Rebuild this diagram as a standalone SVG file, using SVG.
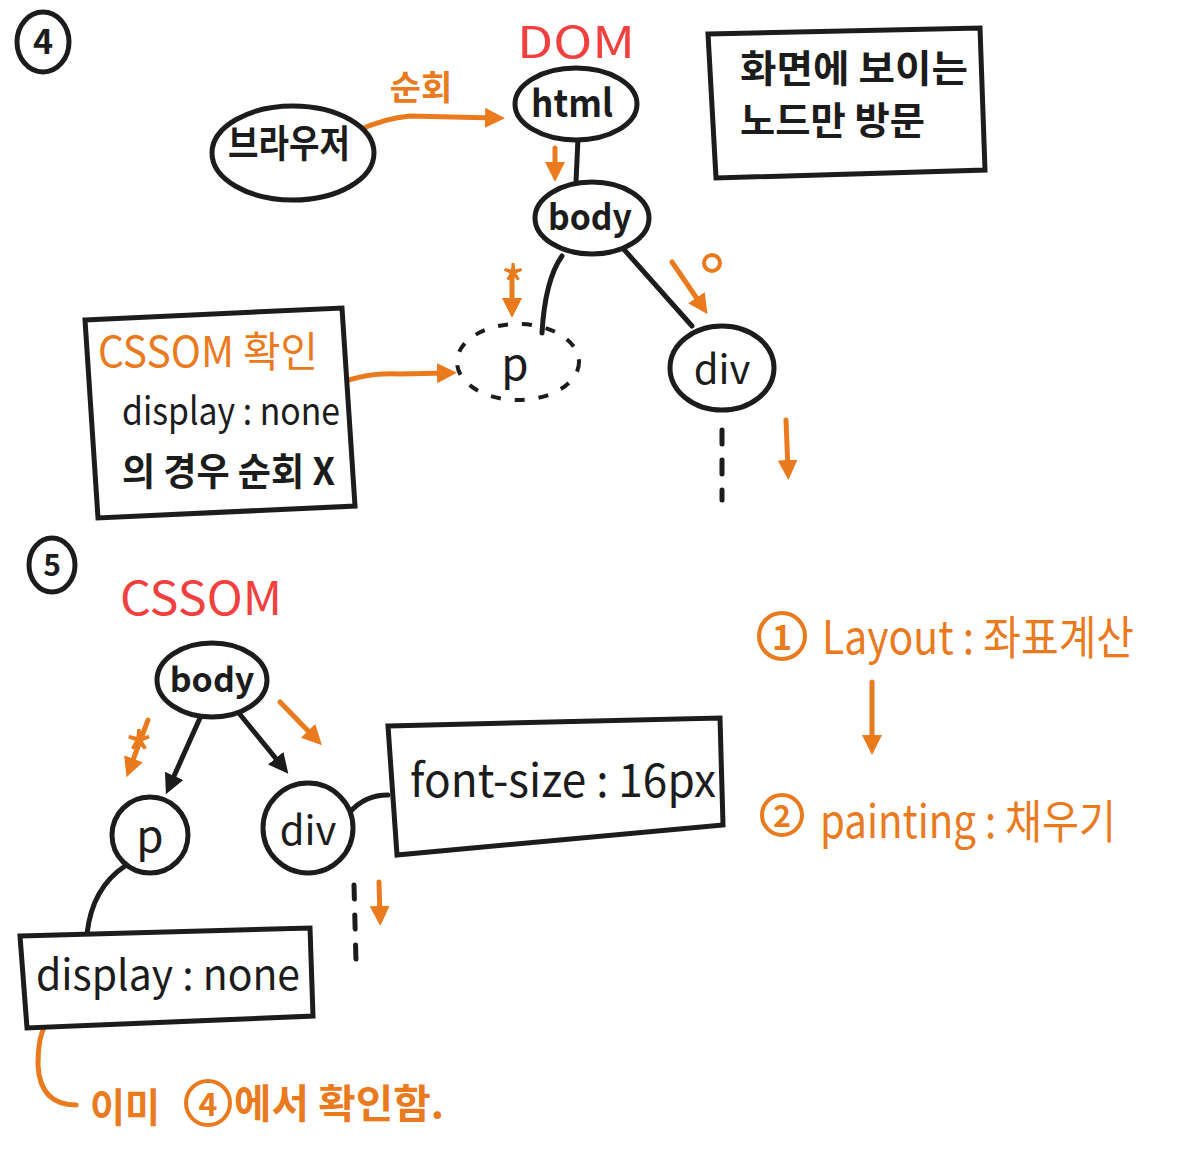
<svg xmlns="http://www.w3.org/2000/svg" width="1200" height="1158" viewBox="0 0 1200 1158">
<style>
text{font-family:"Noto Sans CJK KR","Noto Sans",sans-serif;}
.k{fill:#1c1c1c;}
.o{fill:#e97a1e;}
.r{fill:#f2403f;}
.sh{fill:#fff;stroke:#1c1c1c;stroke-width:5;}
.ln{fill:none;stroke:#1c1c1c;stroke-width:5;stroke-linecap:round;}
.ol{fill:none;stroke:#e97a1e;stroke-width:5;stroke-linecap:round;}
.oc{fill:none;stroke:#e97a1e;stroke-width:4;}
</style>
<defs>
<marker id="ao" viewBox="0 0 10 10" refX="5" refY="5" markerWidth="4" markerHeight="4" orient="auto"><path d="M0,0 L10,5 L0,10 z" fill="#e97a1e"/></marker>
<marker id="ak" viewBox="0 0 10 10" refX="5" refY="5" markerWidth="4" markerHeight="4" orient="auto"><path d="M0,0 L10,5 L0,10 z" fill="#1c1c1c"/></marker>
</defs>
<rect width="1200" height="1158" fill="#fff"/>

<g id="connectors">
<path class="ol" d="M357,131 Q385,118 410,116 L495,118" marker-end="url(#ao)"/>
<path class="ln" d="M578,138 L576,182"/>
<path class="ol" d="M555,148 L555,172" marker-end="url(#ao)"/>
<path class="ln" d="M562,256 Q545,280 542,333"/>
<path class="ln" d="M620,245 L692,326"/>
<path class="ol" d="M512,272 L512,308" marker-end="url(#ao)"/>
<path class="ol" d="M672,262 L702,306" marker-end="url(#ao)"/>
<path class="ln" d="M722,430 L722,500" stroke-dasharray="14,16"/>
<path class="ol" d="M786,420 L788,470" marker-end="url(#ao)"/>
<path class="ol" d="M330,388 Q360,372 400,374 L447,373" marker-end="url(#ao)"/>
<path class="ln" d="M200,718 L170,785" marker-end="url(#ak)"/>
<path class="ln" d="M238,712 L282,766" marker-end="url(#ak)"/>
<path class="ol" d="M148,720 L130,768" marker-end="url(#ao)"/>
<path class="ol" d="M280,702 L315,738" marker-end="url(#ao)"/>
<path class="ln" d="M350,812 Q365,795 388,795"/>
<path class="ln" d="M125,866 Q92,888 87,934"/>
<path class="ln" d="M354,885 L356,962" stroke-dasharray="14,16"/>
<path class="ol" d="M379,882 L380,916" marker-end="url(#ao)"/>
<path class="ol" d="M872,682 L872,745" marker-end="url(#ao)"/>
<path class="ol" d="M55,1018 Q38,1022 38,1065 Q40,1105 76,1105"/>
</g>

<g id="label-4">
<ellipse cx="43" cy="42" rx="26" ry="30" fill="none" stroke="#1c1c1c" stroke-width="5"/>
<text x="43" y="54" class="k" font-size="34" font-weight="bold" text-anchor="middle">4</text>
</g>
<g id="title-dom"><text x="517" y="58" class="r" font-size="44" textLength="118" lengthAdjust="spacingAndGlyphs">DOM</text></g>
<g id="label-traverse"><text x="421" y="100" class="o" font-size="34" font-weight="bold" text-anchor="middle">순회</text></g>

<g id="node-browser">
<ellipse class="sh" cx="293" cy="153" rx="81" ry="47"/>
<text x="228" y="157" class="k" font-size="38" font-weight="bold" textLength="122" lengthAdjust="spacingAndGlyphs">브라우저</text>
</g>
<g id="node-html">
<ellipse class="sh" cx="576" cy="104" rx="61" ry="36"/>
<text x="531" y="117" class="k" font-size="38" font-weight="bold" textLength="82" lengthAdjust="spacingAndGlyphs">html</text>
</g>
<g id="node-body-dom">
<ellipse class="sh" cx="592" cy="218" rx="57" ry="36"/>
<text x="548" y="230" class="k" font-size="36" font-weight="bold" textLength="84" lengthAdjust="spacingAndGlyphs">body</text>
</g>
<g id="note-visible">
<path class="sh" d="M708,34 L980,28 L985,170 L716,178 Z"/>
<text x="740" y="82" class="k" font-size="38" font-weight="bold" textLength="228" lengthAdjust="spacingAndGlyphs">화면에 보이는</text>
<text x="740" y="134" class="k" font-size="38" font-weight="bold" textLength="185" lengthAdjust="spacingAndGlyphs">노드만 방문</text>
</g>
<g id="mark-star-dom"><text x="513" y="306" class="o" font-size="54" text-anchor="middle">*</text></g>
<g id="mark-circle-dom"><circle cx="712" cy="263" r="8" class="oc"/></g>
<g id="node-p-dom">
<ellipse cx="518" cy="362" rx="61" ry="38" fill="none" stroke="#1c1c1c" stroke-width="4" stroke-dasharray="10,14"/>
<text x="515" y="380" class="k" font-size="44" text-anchor="middle">p</text>
</g>
<g id="node-div-dom">
<ellipse class="sh" cx="722" cy="368" rx="52" ry="42"/>
<text x="722" y="384" class="k" font-size="40" text-anchor="middle">div</text>
</g>
<g id="note-cssom-check">
<path class="sh" d="M85,320 L342,308 L355,506 L98,518 Z"/>
<text x="98" y="367" class="o" font-size="42" textLength="220" lengthAdjust="spacingAndGlyphs">CSSOM 확인</text>
<text x="122" y="425" class="k" font-size="38" textLength="218" lengthAdjust="spacingAndGlyphs">display : none</text>
<text x="122" y="485" class="k" font-size="38" font-weight="bold" textLength="213" lengthAdjust="spacingAndGlyphs">의 경우 순회 X</text>
</g>

<g id="label-5">
<ellipse cx="52" cy="565" rx="23" ry="27" fill="none" stroke="#1c1c1c" stroke-width="5"/>
<text x="52" y="576" class="k" font-size="30" font-weight="bold" text-anchor="middle">5</text>
</g>
<g id="title-cssom"><text x="120" y="615" class="r" font-size="46" textLength="162" lengthAdjust="spacingAndGlyphs">CSSOM</text></g>
<g id="node-body-cssom">
<ellipse class="sh" cx="212" cy="680" rx="55" ry="37"/>
<text x="212" y="692" class="k" font-size="34" font-weight="bold" text-anchor="middle">body</text>
</g>
<g id="mark-star-cssom"><text x="139" y="780" class="o" font-size="64" text-anchor="middle">*</text></g>
<g id="node-p-cssom">
<circle class="sh" cx="150" cy="835" r="38"/>
<text x="150" y="852" class="k" font-size="44" text-anchor="middle">p</text>
</g>
<g id="node-div-cssom">
<circle class="sh" cx="308" cy="828" r="45"/>
<text x="308" y="845" class="k" font-size="40" text-anchor="middle">div</text>
</g>
<g id="note-font-size">
<path class="sh" d="M388,726 L720,718 L723,825 L397,855 Z"/>
<text x="410" y="797" class="k" font-size="46" textLength="306" lengthAdjust="spacingAndGlyphs">font-size : 16px</text>
</g>
<g id="note-display-none">
<path class="sh" d="M20,936 L310,928 L313,1016 L27,1028 Z"/>
<text x="36" y="990" class="k" font-size="42" textLength="264" lengthAdjust="spacingAndGlyphs">display : none</text>
</g>
<g id="note-already">
<text x="90" y="1122" class="o" font-size="40" font-weight="bold" textLength="70" lengthAdjust="spacingAndGlyphs">이미</text>
<circle cx="208" cy="1103" r="22" class="oc"/>
<text x="208" y="1116" class="o" font-size="32" font-weight="bold" text-anchor="middle">4</text>
<text x="234" y="1118" class="o" font-size="40" font-weight="bold" textLength="210" lengthAdjust="spacingAndGlyphs">에서 확인함.</text>
</g>

<g id="step-layout">
<circle cx="782" cy="636" r="23" class="oc"/>
<text x="782" y="650" class="o" font-size="34" font-weight="bold" text-anchor="middle">1</text>
<text x="822" y="654" class="o" font-size="46" textLength="312" lengthAdjust="spacingAndGlyphs">Layout : 좌표계산</text>
</g>
<g id="step-painting">
<circle cx="782" cy="815" r="20" class="oc"/>
<text x="782" y="827" class="o" font-size="30" font-weight="bold" text-anchor="middle">2</text>
<text x="820" y="838" class="o" font-size="46" textLength="296" lengthAdjust="spacingAndGlyphs">painting : 채우기</text>
</g>
</svg>
